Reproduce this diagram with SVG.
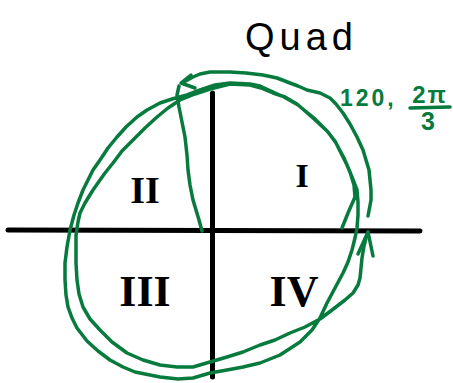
<svg xmlns="http://www.w3.org/2000/svg" width="453" height="383" viewBox="0 0 453 383">
<style>
.ax{stroke:#000;stroke-width:5;fill:none;stroke-linecap:round}
.g{stroke:#077a3d;stroke-width:3.5;fill:none;stroke-linecap:round;stroke-linejoin:round}
.rn{font-family:"Liberation Serif","Times New Roman",serif;font-weight:bold;fill:#000;text-anchor:middle}
.gt{font-family:"Liberation Sans",Arial,sans-serif;font-weight:bold;fill:#077a3d}
</style>
<rect width="453" height="383" fill="#fff"/>
<g id="axes">
<path class="ax" d="M8,230 L420,231"/>
<path class="ax" d="M212.5,93 L212.5,377"/>
</g>
<g id="title">
<text x="245" y="50" font-family="Liberation Sans, Arial, sans-serif" font-size="38" letter-spacing="5" fill="#000">Quad</text>
</g>
<g id="q1"><text class="rn" x="302" y="187" font-size="34">I</text></g>
<g id="q2"><text class="rn" x="145" y="203" font-size="38">II</text></g>
<g id="q3"><text class="rn" x="145" y="306" font-size="44">III</text></g>
<g id="q4"><text class="rn" x="294" y="306" font-size="44">IV</text></g>
<g id="angle-label">
<text class="gt" x="340" y="106" font-size="23" letter-spacing="3">120,</text>
<text class="gt" x="430" y="103" font-size="24" letter-spacing="2" text-anchor="middle">2π</text>
<line x1="410" y1="108" x2="450" y2="107" stroke="#077a3d" stroke-width="3.5" stroke-linecap="round"/>
<text class="gt" x="428" y="130" font-size="25" text-anchor="middle">3</text>
</g>
<g id="connectors">
<path class="g" d="M342,228 L348,213 L355,197 L354,185 L350,172 L344,158 L336,143 L328,132 L314,118 L298,105 L284,97 L273,92 L260,86 L250,84 L230,83 L215,85 L200,90 L187,95 L172,99 L160,103 L147,110 L137,117 L126,127 L117,137 L108,148 L100,160 L93,170 L88,180 L83,190 L78,203 L74,215 L70,230 L67,247 L65,263 L65,280 L66,295 L68,307 L72,318 L77,328 L87,341 L98,351 L110,360 L123,367 L135,372 L160,377 L178,379 L193,378 L210,373 L227,370 L243,367 L260,363 L280,355 L300,342 L312,330 L320,318 L327,303 L335,288 L343,273 L348,262 L352,250 L355,238 L357,228 L358,215 L358,202 L357,190 L352,177 L347,165 L341,153 L335,141 L327,131 L313,118 L297,104 L285,97 L273,93 L261,88 L250,85 L230,84 L210,89 L195,94 L180,100 L168,108 L157,117 L145,128 L133,140 L122,151 L113,163 L105,173 L100,180 L93,190 L85,203 L80,213 L78,222 L76,235 L76,247 L76,263 L77,280 L79,294 L83,307 L90,319 L100,330 L112,342 L127,353 L143,360 L160,365 L177,367 L193,367 L210,362 L227,357 L243,352 L260,345 L275,340 L290,333 L305,327 L320,319 L332,310 L345,300 L353,293 L358,285 L360,278 L361,268 L362,258 L364,246 L366,238 L368,232"/>
<path class="g" d="M358,254 L368,232 L373,256"/>
<path class="g" d="M368,216 L371,200 L371,190 L369,170 L363,150 L357,137 L350,124 L343,113 L336,104 L330,98 L320,93 L307,90 L298,86 L290,83 L277,78 L263,75 L246,73 L230,72 L210,72 L200,74 L193,77 L182,83"/>
<path class="g" d="M191,75 L181,83 L195,88"/>
<path class="g" d="M202,231 L199,220 L196,210 L193,200 L190,185 L188,170 L187,155 L185,137 L182,122 L179,107 L177,95 L179,86"/>
</g>
</svg>
